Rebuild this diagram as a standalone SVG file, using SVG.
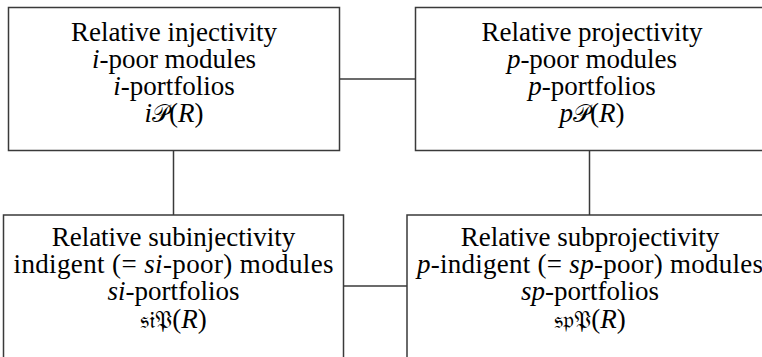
<svg xmlns="http://www.w3.org/2000/svg" width="762" height="357" viewBox="0 0 762 357">
<rect width="762" height="357" fill="#fff"/>
<g id="connectors" stroke="#3a3a3a" stroke-width="1.5" fill="none">
<line x1="339.5" y1="79" x2="415.5" y2="79"/>
<line x1="173.5" y1="150.5" x2="173.5" y2="215"/>
<line x1="589.5" y1="150.5" x2="589.5" y2="215"/>
<line x1="343.5" y1="286" x2="407" y2="286"/>
</g>
<g id="relative-injectivity">
<rect x="8.5" y="7.5" width="331" height="143" fill="#fff" stroke="#3a3a3a" stroke-width="1.5"/>
<text font-family="Liberation Serif" font-size="27" text-anchor="middle" x="174" y="40.5">Relative injectivity</text>
<text font-family="Liberation Serif" font-size="27" text-anchor="middle" x="174" y="67.5"><tspan font-style="italic">i</tspan>-poor modules</text>
<text font-family="Liberation Serif" font-size="27" text-anchor="middle" x="174" y="94.5"><tspan font-style="italic">i</tspan>-portfolios</text>
<text font-family="Liberation Serif" font-size="27" text-anchor="middle" x="174" y="121.5"><tspan font-style="italic">i</tspan><tspan font-size="24">𝒫</tspan>(<tspan font-style="italic">R</tspan>)</text>
</g>
<g id="relative-projectivity">
<rect x="415.5" y="7.5" width="360" height="143" fill="#fff" stroke="#3a3a3a" stroke-width="1.5"/>
<text font-family="Liberation Serif" font-size="27" text-anchor="middle" x="592" y="40.5">Relative projectivity</text>
<text font-family="Liberation Serif" font-size="27" text-anchor="middle" x="592" y="67.5"><tspan font-style="italic">p</tspan>-poor modules</text>
<text font-family="Liberation Serif" font-size="27" text-anchor="middle" x="592" y="94.5"><tspan font-style="italic">p</tspan>-portfolios</text>
<text font-family="Liberation Serif" font-size="27" text-anchor="middle" x="592" y="121.5"><tspan font-style="italic">p</tspan><tspan font-size="24">𝒫</tspan>(<tspan font-style="italic">R</tspan>)</text>
</g>
<g id="relative-subinjectivity">
<rect x="3.5" y="215" width="340" height="160" fill="#fff" stroke="#3a3a3a" stroke-width="1.5"/>
<text font-family="Liberation Serif" font-size="27" text-anchor="middle" x="173.5" y="246">Relative subinjectivity</text>
<text font-family="Liberation Serif" font-size="27" text-anchor="middle" x="173.5" y="273" textLength="320" lengthAdjust="spacing">indigent (= <tspan font-style="italic">si</tspan>-poor) modules</text>
<text font-family="Liberation Serif" font-size="27" text-anchor="middle" x="173.5" y="300"><tspan font-style="italic">si</tspan>-portfolios</text>
<text font-family="Liberation Serif" font-size="27" text-anchor="middle" x="173.5" y="328"><tspan font-size="24">𝔰𝔦𝔓</tspan>(<tspan font-style="italic">R</tspan>)</text>
</g>
<g id="relative-subprojectivity">
<rect x="407" y="215" width="370" height="160" fill="#fff" stroke="#3a3a3a" stroke-width="1.5"/>
<text font-family="Liberation Serif" font-size="27" text-anchor="middle" x="590" y="246">Relative subprojectivity</text>
<text font-family="Liberation Serif" font-size="27" text-anchor="middle" x="590" y="273" textLength="346" lengthAdjust="spacing"><tspan font-style="italic">p</tspan>-indigent (= <tspan font-style="italic">sp</tspan>-poor) modules</text>
<text font-family="Liberation Serif" font-size="27" text-anchor="middle" x="590" y="300"><tspan font-style="italic">sp</tspan>-portfolios</text>
<text font-family="Liberation Serif" font-size="27" text-anchor="middle" x="590" y="328"><tspan font-size="24">𝔰𝔭𝔓</tspan>(<tspan font-style="italic">R</tspan>)</text>
</g>
</svg>
